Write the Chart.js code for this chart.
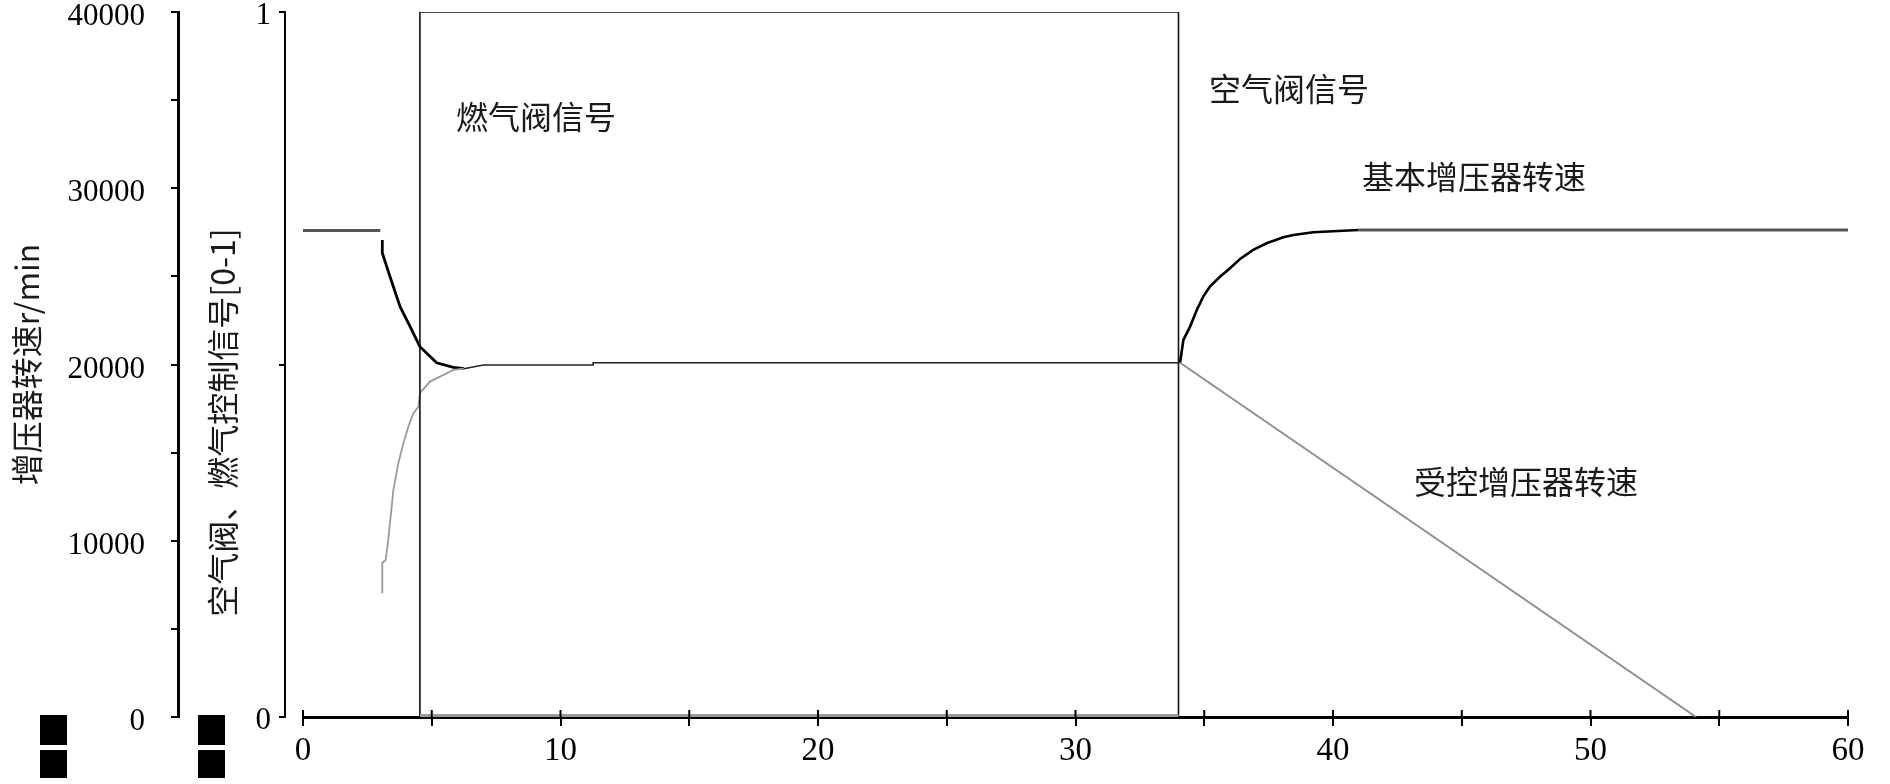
<!DOCTYPE html>
<html>
<head>
<meta charset="utf-8">
<script src="https://cdn.jsdelivr.net/npm/chart.js@4.4.1/dist/chart.umd.min.js"></script>
<style>
  html, body { margin: 0; padding: 0; background: #fff; }
</style>
</head>
<body>
<canvas id="chart" width="1890" height="784"></canvas>
<script>
// time axis, s
const xTicks = [0, 10, 20, 30, 40, 50, 60]
const speedTicks = [0, 10000, 20000, 30000, 40000]
const signalTicks = [0, 1]

// 基本增压器转速 r/min
const basicStartT = [0, 3.0]
const basicStartV = [27600, 27600]
const basicDropT = [3.08, 3.08, 3.38, 3.77, 4.16, 4.54, 5.19, 5.84, 6.25]
const basicDropV = [27060, 26330, 24980, 23280, 22150, 21010, 20100, 19840, 19760]
const settledT = [6.25, 7.0, 11.27, 11.27, 34.0]
const settledV = [19760, 19970, 19970, 20100, 20100]
const basicRiseT = [34.06, 34.19, 34.45, 34.71, 34.96, 35.22, 35.61, 36.0, 36.39, 36.9, 37.42, 38.07, 38.46, 39.23, 40.98]
const basicRiseV = [20100, 21390, 22150, 23090, 23850, 24420, 24980, 25460, 25990, 26500, 26880, 27220, 27350, 27500, 27630]
const basicEndT = [40.98, 60]
const basicEndV = [27630, 27630]

// 受控增压器转速 r/min
const ctrlRiseT = [3.08, 3.08, 3.21, 3.31, 3.51, 3.70, 3.90, 4.09, 4.28, 4.48, 4.54, 4.93, 5.32, 5.84, 6.25]
const ctrlRiseV = [7020, 8740, 8910, 10040, 12880, 14390, 15530, 16470, 17230, 17600, 18370, 19030, 19310, 19690, 19760]
const ctrlFallT = [34.06, 54.1]
const ctrlFallV = [20100, 0]

// 阀门信号 [0-1]
const fuelT = [4.54, 4.54, 34.0, 34.0]
const fuelV = [0, 1, 1, 0]
const airT = [4.54, 34.0]
const airV = [0, 0]

// 曲线标注
const noteText = ['燃气阀信号', '空气阀信号', '基本增压器转速', '受控增压器转速']
const noteT = [5.94, 35.18, 41.13, 43.15]
const noteV = [34040, 35630, 30640, 13330]

const serif = "'Liberation Serif', 'Noto Sans CJK SC', serif"
const cjk = "'Noto Sans CJK SC', 'Liberation Serif', sans-serif"

const pts = (xs, ys) => xs.map((x, i) => ({ x, y: ys[i] }))

function line(xs, ys, color, width, axis) {
  return {
    data: pts(xs, ys),
    borderColor: color,
    borderWidth: width,
    yAxisID: axis || 'y',
    pointRadius: 0,
    tension: 0,
    fill: false,
    borderJoinStyle: 'miter'
  }
}

const extras = {
  id: 'extras',
  afterDraw(chart) {
    const c = chart.ctx
    const x = chart.scales.x
    const y = chart.scales.y
    const y1 = chart.scales.y1
    c.save()
    // x ticks crossing upward
    c.strokeStyle = '#000'
    c.lineWidth = 2
    x.ticks.forEach(t => {
      const px = x.getPixelForValue(t.value)
      c.beginPath()
      c.moveTo(px, x.top)
      c.lineTo(px, x.top - 7)
      c.stroke()
    })
    // notes
    c.fillStyle = '#1a1a1a'
    c.font = '32px ' + cjk
    c.textBaseline = 'middle'
    c.textAlign = 'left'
    noteText.forEach((s, i) => {
      c.fillText(s, x.getPixelForValue(noteT[i]), y.getPixelForValue(noteV[i]))
    })
    // second axis title
    c.save()
    c.translate(y1.left + 45, (chart.chartArea.top + chart.chartArea.bottom) / 2 + 58)
    c.rotate(-Math.PI / 2)
    c.textAlign = 'center'
    c.fillStyle = '#1a1a1a'
    c.font = '32px ' + cjk
    c.fillText('空气阀、燃气控制信号[0-1]', 0, 0)
    c.restore()
    // broken glyph boxes at the bottom left
    c.fillStyle = '#000'
    ;[40, 198].forEach(bx => {
      c.fillRect(bx, 715, 27, 30)
      c.fillRect(bx, 750, 27, 28)
    })
    c.restore()
  }
}

new Chart(document.getElementById('chart'), {
  type: 'line',
  data: {
    datasets: [
      line(airT, airV, '#9a9a9a', 6, 'y1'),
      line(fuelT, fuelV, '#111', 1.6, 'y1'),
      line(basicStartT, basicStartV, '#555', 3),
      line(ctrlRiseT, ctrlRiseV, '#9a9a9a', 1.8),
      line(basicDropT, basicDropV, '#000', 2.8),
      line(settledT, settledV, '#222', 1.6),
      line(ctrlFallT, ctrlFallV, '#8f8f8f', 2),
      line(basicRiseT, basicRiseV, '#000', 2.6),
      line(basicEndT, basicEndV, '#555', 3)
    ]
  },
  options: {
    responsive: false,
    animation: false,
    devicePixelRatio: 1,
    layout: { padding: { top: 12, right: 42, bottom: 0, left: 0 } },
    plugins: { legend: { display: false }, tooltip: { enabled: false } },
    scales: {
      x: {
        type: 'linear',
        min: 0,
        max: 60,
        z: 1,
        afterFit(s) { s.height = 67; s.paddingLeft = 0; s.paddingRight = 0 },
        ticks: {
          stepSize: 5,
          autoSkip: false,
          maxRotation: 0,
          padding: 6,
          color: '#000',
          font: { family: serif, size: 33 },
          callback: v => xTicks.includes(v) ? String(v) : ''
        },
        grid: { drawOnChartArea: false, tickLength: 9, color: '#000', lineWidth: 2 },
        border: { display: true, color: '#000', width: 3 }
      },
      y: {
        type: 'linear',
        position: 'left',
        weight: 2,
        min: 0,
        max: 40000,
        afterFit(s) { s.width = 178; s.paddingTop = 0; s.paddingBottom = 0 },
        ticks: {
          stepSize: 5000,
          autoSkip: false,
          padding: 26,
          labelOffset: 5,
          color: '#000',
          font: { family: serif, size: 31 },
          callback: v => speedTicks.includes(v) ? String(v) : ''
        },
        grid: { drawOnChartArea: false, tickLength: 7, color: '#000', lineWidth: 2 },
        border: { display: true, color: '#000', width: 3 },
        title: {
          display: true,
          text: '增压器转速r/min',
          color: '#1a1a1a',
          font: { family: cjk, size: 32 },
          padding: { top: 8, bottom: 0 }
        }
      },
      y1: {
        type: 'linear',
        position: 'left',
        weight: 1,
        min: 0,
        max: 1,
        afterFit(s) { s.width = 107; s.paddingTop = 0; s.paddingBottom = 0 },
        ticks: {
          stepSize: 0.5,
          autoSkip: false,
          padding: 8,
          labelOffset: 4,
          color: '#000',
          font: { family: serif, size: 31 },
          callback: v => signalTicks.includes(v) ? String(v) : ''
        },
        grid: { drawOnChartArea: false, tickLength: 6, color: '#000', lineWidth: 2 },
        border: { display: true, color: '#000', width: 2 }
      },
      gap: {
        type: 'linear',
        position: 'left',
        weight: 0,
        afterFit(s) { s.width = 18; s.paddingTop = 0; s.paddingBottom = 0 },
        ticks: { display: false },
        grid: { display: false },
        border: { display: false }
      }
    }
  },
  plugins: [extras]
})
</script>
</body>
</html>
